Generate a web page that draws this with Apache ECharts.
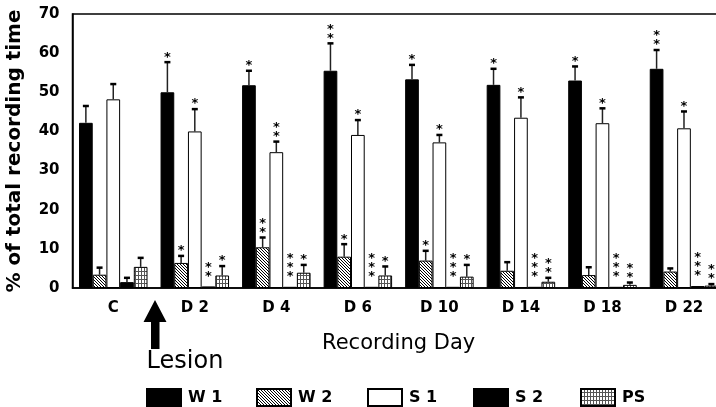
<!DOCTYPE html>
<html><head><meta charset="utf-8">
<script src="https://cdn.jsdelivr.net/npm/echarts@6/dist/echarts.min.js"></script>
<style>html,body{margin:0;padding:0;background:#fff}#c{width:716px;height:407px}</style>
</head><body><div id="c"></div>
<script>
const categories = ['C','D 2','D 4','D 6','D 10','D 14','D 18','D 22'];
const seriesNames = ['W 1','W 2','S 1','S 2','PS'];
const yTicks = [0,10,20,30,40,50,60,70];

const w1     = [42.2, 50.0, 51.8, 55.5, 53.3, 51.9, 53.0, 56.0];
const w1Err  = [46.5, 57.7, 55.5, 62.5, 57.0, 56.0, 56.6, 60.8];
const w1Star = ['', '*', '*', '**', '*', '*', '*', '**'];

const w2     = [3.4, 6.4, 10.4, 8.0, 7.0, 4.4, 3.3, 4.2];
const w2Err  = [5.2, 8.2, 12.9, 11.2, 9.5, 6.6, 5.3, 5.0];
const w2Star = ['', '*', '**', '*', '*', '', '', ''];

const s1     = [48.2, 40.0, 34.7, 39.1, 37.2, 43.5, 42.1, 40.8];
const s1Err  = [52.1, 45.7, 37.4, 42.9, 39.1, 48.7, 45.9, 45.1];
const s1Star = ['', '*', '**', '*', '*', '*', '*', '*'];

const s2     = [1.5, 0.4, 0.3, 0.3, 0.3, 0.3, 0.3, 0.5];
const s2Err  = [2.6, 0.4, 0.3, 0.3, 0.3, 0.3, 0.3, 0.5];
const s2Star = ['', '**', '***', '***', '***', '***', '***', '***'];

const ps     = [5.4, 3.2, 3.9, 3.2, 2.9, 1.6, 0.8, 0.6];
const psErr  = [7.7, 5.6, 5.9, 5.5, 5.9, 2.6, 1.4, 1.0];
const psStar = ['', '*', '*', '*', '*', '**', '**', '**'];

function makePattern(w, h, draw) {
  const c = document.createElement('canvas');
  c.width = w; c.height = h;
  const ctx = c.getContext('2d');
  ctx.fillStyle = '#fff'; ctx.fillRect(0, 0, w, h);
  draw(ctx);
  return { image: c, repeat: 'repeat' };
}
const hatch = makePattern(3, 3, ctx => {
  ctx.fillStyle = '#000';
  for (let i = 0; i < 3; i++) ctx.fillRect(i, i, 1, 1);
});
const grid = makePattern(3, 4, ctx => {
  ctx.fillStyle = '#555';
  ctx.fillRect(0, 0, 1, 3);
  ctx.fillRect(0, 3, 3, 1);
});

const GAP = 0.16;
const FONT_B = '"DejaVu Sans"';

const groups = [
  { name: seriesNames[0], vals: w1, errs: w1Err, stars: w1Star, color: '#000' },
  { name: seriesNames[1], vals: w2, errs: w2Err, stars: w2Star, color: hatch },
  { name: seriesNames[2], vals: s1, errs: s1Err, stars: s1Star, color: '#fff' },
  { name: seriesNames[3], vals: s2, errs: s2Err, stars: s2Star, color: '#000' },
  { name: seriesNames[4], vals: ps, errs: psErr, stars: psStar, color: grid }
];

function makeRender(si, starArr) {
  return function (params, api) {
    const i = api.value(0);
    const v = api.value(1), e = api.value(2);
    const band = api.size([1, 0])[0];
    const group = band * (1 - GAP);
    const bw = group / 5;
    const cx = api.coord([i, 0])[0] - group / 2 + bw * (si + 0.5);
    const yv = api.coord([i, v])[1];
    const ye = api.coord([i, e])[1];
    const children = [];
    if (e > v + 0.05) {
      children.push({ type: 'line', shape: { x1: cx, y1: yv, x2: cx, y2: ye }, style: { stroke: '#222', lineWidth: 1.5 } });
      children.push({ type: 'line', shape: { x1: cx - 3, y1: ye, x2: cx + 3, y2: ye }, style: { stroke: '#000', lineWidth: 2.5 } });
    }
    const s = starArr[i] || '';
    const base = e > v + 0.05 ? ye - 8 : yv - 13;
    for (let k = 0; k < s.length; k++) {
      children.push({ type: 'text', style: { text: '*', x: cx, y: base - k * 9 + 3, align: 'center', verticalAlign: 'middle', font: 'bold 13px ' + FONT_B, fill: '#000' } });
    }
    return { type: 'group', children };
  };
}

const series = [];
groups.forEach((g, si) => {
  series.push({
    name: g.name, type: 'bar', data: g.vals,
    barGap: '0%', barCategoryGap: (GAP * 100) + '%',
    itemStyle: { color: g.color, borderColor: '#000', borderWidth: 1 },
    emphasis: { disabled: true }, animation: false
  });
});
groups.forEach((g, si) => {
  series.push({
    type: 'custom', name: g.name + ' err', z: 5, animation: false,
    renderItem: makeRender(si, g.stars),
    data: categories.map((c, i) => [i, g.vals[i], g.errs[i]])
  });
});

const legendLefts = [141, 251, 362, 468, 575];
const legends = seriesNames.map((n, k) => ({
  data: [{ name: n, icon: 'rect' }], left: legendLefts[k], top: 383, itemWidth: 34, itemHeight: 17,
  itemGap: 0, selectedMode: false,
  textStyle: { fontFamily: FONT_B, fontWeight: 'bold', fontSize: 16, color: '#000', padding: [0, 0, 0, 2] }
}));

const chart = echarts.init(document.getElementById('c'), null, { renderer: 'canvas' });
chart.setOption({
  animation: false,
  backgroundColor: '#fff',
  grid: { left: 72.5, top: 14, width: 652.25, height: 274, outerBoundsMode: 'none', containLabel: false,
    show: true, borderColor: '#000', borderWidth: 1.5, backgroundColor: 'transparent' },
  legend: legends,
  xAxis: {
    type: 'category', data: categories,
    axisLine: { lineStyle: { color: '#000', width: 1.5 } },
    axisTick: { alignWithLabel: true, length: 6, lineStyle: { color: '#000' } },
    axisLabel: { fontFamily: FONT_B, fontWeight: 'bold', fontSize: 15, color: '#000', margin: 13 },
    name: 'Recording Day', nameLocation: 'middle', nameGap: 45,
    nameTextStyle: { fontFamily: FONT_B, fontSize: 21, color: '#000' }
  },
  yAxis: {
    type: 'value', min: 0, max: 70, interval: 10,
    axisLine: { show: true, lineStyle: { color: '#000', width: 1.5 } },
    axisTick: { show: false },
    splitLine: { show: false },
    axisLabel: { fontFamily: FONT_B, fontWeight: 'bold', fontSize: 15, color: '#000', margin: 13,
      formatter: v => yTicks.includes(v) ? String(v) : '' },
    name: '% of total recording time', nameLocation: 'middle', nameGap: 48,
    nameTextStyle: { fontFamily: FONT_B, fontWeight: 'bold', fontSize: 20, color: '#000' }
  },
  graphic: [
    { type: 'polygon', shape: { points: [[155, 300], [143.5, 322], [151, 322], [151, 349], [159.5, 349], [159.5, 322], [166.5, 322]] }, style: { fill: '#000' } },
    { type: 'text', style: { text: 'Lesion', x: 185, y: 362, align: 'center', verticalAlign: 'middle', font: '24px ' + FONT_B, fill: '#000' } }
  ],
  series
});
</script>
</body></html>
